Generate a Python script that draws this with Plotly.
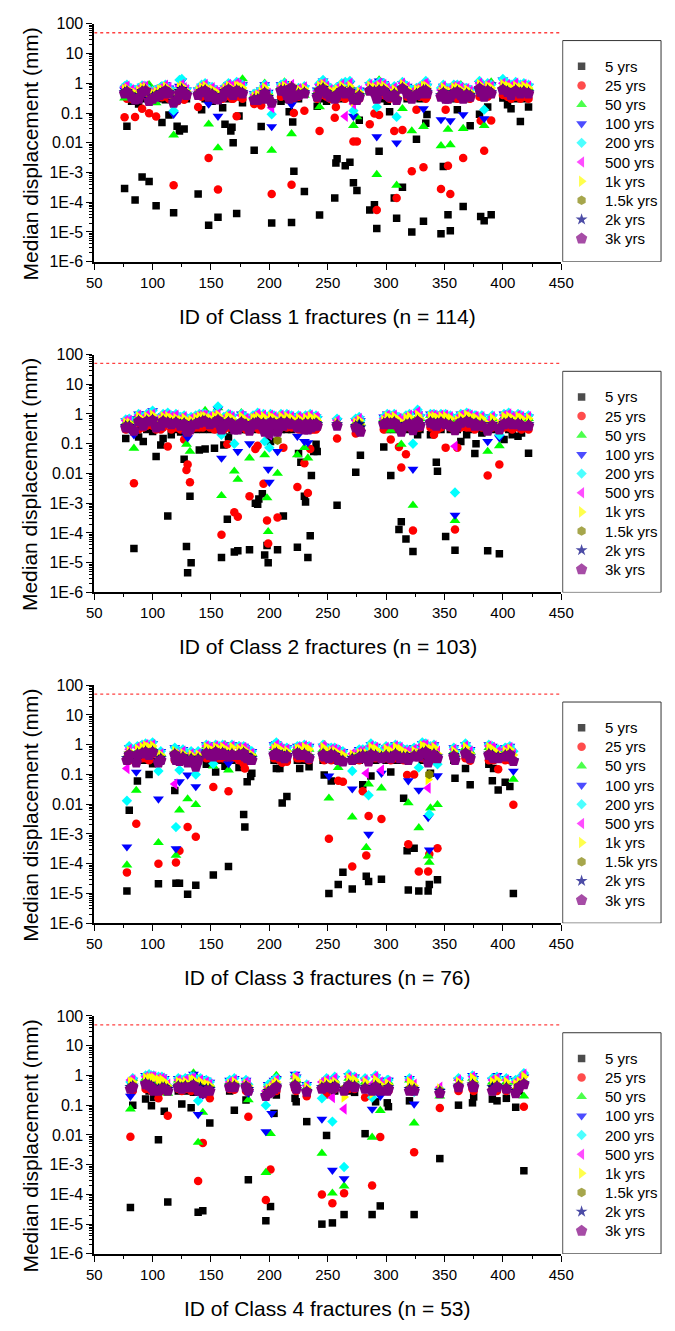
import plotly.graph_objects as go

# ---------------------------------------------------------------- series
SERIES = ["5 yrs", "25 yrs", "50 yrs", "100 yrs", "200 yrs",
          "500 yrs", "1k yrs", "1.5k yrs", "2k yrs", "3k yrs"]
COLORS = ["#000000", "#FF0000", "#00FF00", "#0000FF", "#00FFFF",
          "#FF00FF", "#FFFF00", "#808000", "#000080", "#800080"]
SYMBOLS = ["square", "circle", "triangle-up", "triangle-down", "diamond",
           "triangle-left", "triangle-right", "hexagon", "star", "pentagon"]
SIZES = [7.5, 8.5, 9.5, 9.5, 8, 10, 10, 9.5, 9, 12]

LIMIT_MM = 50  # displacement limit drawn as the dotted line

# ---------------------------------------------------------------- Class 1
C1_ID = [76, 78, 82, 85, 88, 91, 94, 97, 100, 103, 106, 108, 111, 114, 118, 121, 123, 125, 127, 129,
         139, 142, 145, 148, 151, 154, 156, 160, 162, 165, 167, 168, 169, 172, 174, 177,
         187, 190, 193, 196, 199, 202,
         210, 213, 215, 217, 219, 220, 221, 225, 230,
         241, 243, 246, 249, 252, 256, 257, 258, 262, 265, 269, 272, 275, 277,
         286, 290, 292, 294, 298, 301, 303, 307, 309, 314, 318, 322, 326, 329, 332, 334, 335,
         347, 349, 351, 353, 355, 358, 361, 364, 366, 369, 372,
         380, 381, 384, 387, 390,
         400, 404, 407, 411, 415, 418, 422]
C1_5 = [2.9e-4, .036, .25, 1.2e-4, .2, 7e-4, .3, 5e-4, .25, 7.6e-5, .3, .048, .28, .085, 4.4e-5, .036, .025, .3, .029, .3,
        1.9e-4, .13, .3, 1.7e-5, .25, .3, 3.1e-5, .15, .042, .3, .025, .033, .01, 4.2e-5, .079, .22,
        5.6e-3, .25, .035, .3, .3, 2e-5,
        .25, .3, .3, .11, 2.1e-5, .05, 1.1e-3, .3, 2.3e-4,
        .17, 3.7e-5, .3, .25, .3, 1.4e-4, 2.1e-3, 2.9e-3, .3, 1.7e-3, 2.2e-3, 4.5e-4, 2.5e-4, .057,
        5.5e-5, 8.2e-5, 1.3e-5, 5.2e-3, .3, .25, .11, 1.4e-4, 2.9e-5, 3.2e-4, .3, 1e-5, .013, .3, 2.3e-5, .045, .089,
        8.7e-6, 1.6e-3, .3, 3.8e-5, 1.1e-5, .3, .13, .3, 7.2e-5, .3, .037,
        .091, 3.3e-5, 2.4e-5, .16, 3.8e-5,
        .32, .19, .14, .3, .052, .3, .16]
C1_25 = [.072, .3, .3, .074, .35, .14, .4, .098, .3, .076, .35, .34, .4, .3, 3.7e-4, .25, .3, .35, .28, .35,
         .16, .35, .4, 3.1e-3, .35, .3, 2.7e-4, .3, .35, .4, .35, .3, .3, .078, .35, .3,
         .2, .25, .18, .3, .3, 1.9e-4,
         .35, .4, .35, .3, 3.9e-4, .3, .1, .35, .12,
         .3, .025, .4, .35, .3, .069, .16, .3, .35, .3, .35, .011, .011, .3,
         .042, .096, 5.5e-5, .085, .4, .35, .3, .025, 1.4e-4, .027, .35, 1.1e-3, .13, .35, 1.5e-3, .3, .35,
         2.8e-4, .35, .13, 1.7e-3, 1.9e-4, .35, .3, .35, 3.1e-3, .35, .3,
         .35, .055, 5.4e-3, .35, .056,
         .4, .35, .3, .35, .3, .35, .3]
C1_50 = [.32, .55, .5, .45, .6, .7, .7, .9, .5, .22, .6, .7, .8, .6, .018, .45, .6, .8, .6, .55,
         .5, .6, .7, .042, .6, .5, 6.7e-3, .5, .6, .8, .7, .6, .5, .8, .7, 1.4,
         .4, .45, .6, 1, .5, 5.5e-3,
         .8, 1.1, .7, .5, .02, .6, .5, .6, .39,
         .5, .16, .8, .6, .5, .5, .5, .6, .7, .6, .8, .038, .074, .5,
         .5, .6, 8.5e-4, 1.3, .8, .6, .5, .6, 3.7e-4, .14, .7, .025, .6, .6, .035, .7, .6,
         7.9e-3, .6, .5, .028, 8.5e-3, .6, .7, .9, .03, .6, .5,
         .8, .6, .038, .7, 1.1,
         .8, .7, .6, .8, .6, .7, .7]
C1_100 = [.6, .8, .6, .55, .7, .8, .75, .6, .55, .5, .7, .75, .9, .7, .091, .6, .8, 1.2, .7, .6,
          .6, .8, .9, .2, .7, .6, .078, .6, .7, .9, .8, .7, .6, 1, .9, .9,
          .45, .5, .6, .9, .5, .035,
          .9, 1, .8, .6, .19, .7, .6, .7, .7,
          .6, .8, 1.2, .8, .6, .6, .6, .7, .9, .7, 1, .078, .5, .6,
          .9, .8, .016, 1.2, 1, .7, .6, .7, .01, 1, .8, .5, .7, .7, .14, 1, .8,
          .06, .8, .6, .5, .055, .8, .9, .8, .089, .7, .6,
          1, .8, .065, .9, .9,
          1.3, .9, .8, 1, .8, .9, .8]
C1_200 = [.8, .9, .65, .6, .7, .85, .8, .6, .55, .6, .7, .8, .9, .7, .12, .6, 1.3, 1.4, .75, .65,
          .65, .9, 1, .6, .75, .6, .5, .6, .8, 1, .9, .8, .7, 1.1, 1, .9,
          .45, .5, .6, .9, .5, .091,
          .9, 1, .8, .6, .5, .7, .6, .7, .8,
          .6, 1, 1.3, .9, .7, .6, .7, .7, 1, 1.1, 1.2, .12, .5, .6,
          1, .9, .16, 1.1, 1, .8, .6, .8, .074, 1.1, .8, .6, .7, .8, .9, 1.2, .9,
          .7, .9, .6, .6, .7, .9, .9, .8, .6, .7, .6,
          1.2, .9, .13, 1, .9,
          1.4, 1, .9, 1.1, .9, 1, .9]
C1_500 = [.75, .8, .6, .5, .65, .8, .8, .5, .5, .55, .65, .7, .85, .7, .3, .5, .8, .9, .7, .6,
          .6, .8, .9, .6, .7, .55, .5, .55, .75, .9, .8, .7, .6, 1, .9, .8,
          .4, .45, .55, .8, .45, .15,
          .8, .9, .7, .55, .9, .65, .55, .65, .75,
          .55, .9, 1, .8, .6, .55, .6, .65, .9, .078, 1, .2, .45, .55,
          .9, .8, .4, 1, .9, .7, .55, .7, .3, 1, .75, .5, .65, .7, .9, 1, .8,
          .6, .8, .55, .5, .6, .8, .8, .7, .55, .65, .55,
          1, .8, .5, .9, .8,
          1, .9, .8, 1, .8, .9, .8]
C1_1K = [.6, .65, .5, .45, .55, .7, .7, .45, .45, .5, .6, .6, .75, .6, .3, .45, .7, .8, .6, .55,
         .55, .7, .8, .5, .6, .5, .45, .5, .65, .8, .7, .6, .55, .8, .8, .7,
         .35, .4, .5, .7, .4, .25,
         .7, .8, .6, .5, .8, .55, .5, .6, .65,
         .5, .8, .9, .7, .55, .5, .5, .6, .8, .6, .8, .25, .4, .5,
         .8, .7, .4, .8, .8, .6, .5, .6, .35, .9, .65, .45, .6, .6, .8, .8, .7,
         .5, .7, .5, .45, .5, .7, .7, .6, .5, .6, .5,
         .9, .7, .5, .8, .7,
         .9, .8, .7, .8, .7, .8, .7]
C1_1K5 = [.5, .55, .4, .32, .35, .55, .6, .3, .35, .4, .45, .5, .6, .5, .25, .32, .5, .6, .5, .45,
          .45, .55, .6, .4, .45, .35, .3, .4, .55, .65, .55, .5, .45, .6, .55, .5,
          .3, .3, .35, .5, .35, .22,
          .6, .6, .45, .35, .75, .45, .4, .45, .5,
          .4, .6, .7, .5, .4, .35, .4, .45, .6, .5, .55, .3, .3, .4,
          .6, .55, .35, .6, .6, .45, .4, .45, .3, .7, .5, .35, .45, .5, .6, .6, .5,
          .4, .5, .35, .35, .4, .5, .55, .45, .35, .45, .4,
          .7, .55, .4, .6, .5,
          .65, .55, .45, .6, .5, .55, .5]
C1_2K = [.5, .55, .4, .33, .35, .55, .6, .3, .35, .4, .45, .5, .6, .5, .25, .33, .55, .65, .5, .45,
         .45, .55, .6, .4, .45, .35, .3, .4, .55, .65, .55, .5, .45, .6, .55, .5,
         .3, .3, .35, .5, .35, .25,
         .6, .6, .45, .35, .75, .45, .4, .45, .5,
         .4, .6, .7, .5, .4, .35, .4, .45, .6, .5, .55, .3, .3, .4,
         .6, .55, .35, .6, .6, .45, .4, .45, .3, .7, .5, .35, .45, .5, .6, .6, .5,
         .4, .5, .35, .35, .4, .5, .55, .45, .35, .45, .4,
         .7, .55, .4, .6, .5,
         .65, .55, .45, .6, .5, .55, .5]
C1_3K = [.45, .5, .35, .28, .3, .5, .55, .25, .3, .35, .4, .45, .55, .45, .22, .28, .45, .55, .45, .4,
         .4, .5, .55, .35, .4, .3, .28, .35, .5, .6, .5, .45, .4, .55, .5, .45,
         .27, .27, .3, .45, .3, .22,
         .55, .55, .4, .3, .7, .4, .35, .4, .45,
         .35, .55, .6, .45, .35, .3, .35, .4, .55, .45, .5, .28, .27, .35,
         .55, .5, .3, .55, .55, .4, .35, .4, .27, .65, .45, .3, .4, .45, .55, .55, .45,
         .35, .45, .3, .3, .35, .45, .5, .4, .3, .4, .35,
         .65, .5, .35, .55, .45,
         .6, .5, .4, .55, .45, .5, .45]

# ---------------------------------------------------------------- Class 2
C2_ID = [77, 80, 84, 88, 92, 95, 100, 103, 107, 109, 113, 116, 120, 124, 127, 129, 130, 132, 133, 137,
         140, 143, 145, 149, 153, 156, 159, 161, 164, 165, 168, 170, 173, 176, 180, 183, 186, 188, 190, 191,
         194, 195, 196, 198, 199, 200, 201, 204, 207, 210, 212, 215, 219, 224, 225, 227, 230, 231, 233, 235,
         236, 238, 240, 241,
         258, 274, 277, 278, 298, 301, 304, 307, 311, 313, 317, 320, 323, 327, 329, 338, 341, 343, 344, 347,
         351, 355, 359, 361, 364, 369, 372, 376, 377, 382, 387, 391, 397, 401, 405, 408, 413, 416, 422]
C2_5 = [.15, .3, 3e-5, .17, .12, .3, .26, .037, .091, .15, 3.7e-4, .2, .3, .25, .03, 3.5e-5, 4.6e-6, 1.7e-3, 1e-5, .3,
        .062, .3, .066, .3, .071, .3, 1.5e-5, .091, 2.9e-4, .17, .3, 2.3e-5, 2.5e-5, .3, .3, 2.7e-5, .3, 1e-3, 9.3e-4, 1.4e-3,
        2.1e-3, .3, 1.8e-5, 3.8e-5, 1e-5, .3, .12, .3, 2.7e-5, .3, 3.7e-4, .3, .3, 3.3e-5, .047, .024, 1.7e-3, 1.1e-3, 1.5e-5, 8e-5,
        8.5e-3, .055, .096, .055,
        8.5e-4, .011, .3, .041, .078, .3, 8.5e-3, .3, 1.3e-4, 2.4e-4, 6.3e-5, .3, 2.4e-5, .2, .3, .2, .3, .024, .012, .3,
        7.6e-5, .3, 2.6e-5, .3, .12, .2, .3, .047, .1, .23, 2.5e-5, .3, 2e-5, .14, .3, .2, .18, .23, .048]
C2_25 = [.3, .35, 4.7e-3, .3, .35, .4, .4, .3, .3, .35, .08, .3, .35, .3, .14, .013, .02, 5.1e-3, .3, .35,
         .35, .35, .4, .35, .3, .35, 8.7e-5, .3, .096, .35, .35, 5e-4, 3.5e-4, .35, .3, 1.7e-3, .35, .066, .085, .3,
         .35, 4.5e-3, .3, 2.6e-4, 4.4e-5, .3, .35, .35, 3.3e-4, .35, .074, .35, .35, 3.5e-3, .3, .3, .022, .3, 2.2e-3, .066,
         .3, .3, .3, .35,
         .15, .22, .3, .3, .3, .35, .14, .35, .078, .016, .044, .35, 1.2e-4, .35, .35, .35, .2, .35, .3, .35,
         .074, .35, 1.3e-4, .074, .35, .35, .35, .3, .35, .35, 8.5e-3, .35, .02, .35, .35, .3, .35, .3, .3]
C2_50 = [.5, .6, .07, .9, .7, .8, .9, .6, .6, .7, .7, .6, .7, .6, .6, .096, .3, .055, .5, .6,
         .7, .8, 1.3, .7, .7, 1.6, 1.8e-3, .6, .6, .7, .7, .012, 6.3e-3, 1.1, .6, .033, .7, .6, .7, .6,
         .7, .8, .042, 1.5e-3, 1.1e-4, .5, 1, .7, .01, .8, .6, .7, .7, .042, .6, .6, .074, .6, .033, .7,
         .5, .6, .7, .6,
         .5, .5, .6, .5, .7, .8, .28, .7, .6, .096, .6, .7, 8.5e-4, .8, .7, .9, .8, .7, .6, .8,
         .7, .7, 2.6e-4, .6, .8, 1, .8, .6, .7, .7, .055, .7, .085, .8, .9, .7, .8, .7, .7]
C2_100 = [.6, .7, .2, 1, .8, 1, 1.3, .7, .8, .9, 1, .8, .9, .7, .8, .2, .16, .5, .7, .8,
          .9, 1, 1, .8, .9, 1.5, .033, .8, .8, .9, .8, .3, .055, 1, .8, .1, .8, .8, .9, .8,
          .8, .9, .4, .6, .014, 5.1e-3, .9, .8, .055, .9, .8, .9, .9, .18, .8, .7, .12, .8, .11, .9,
          .6, .7, .8, .7,
          .6, .6, .7, .6, .8, 1, .8, .9, .8, .6, .8, .9, .014, 1, .8, 1, .9, .8, .8, 1,
          .9, .8, 4e-4, .8, 1, 1.1, .9, .8, .9, .8, .12, .8, .16, 1, 1, .9, .9, .9, .8]
C2_200 = [.65, .7, .3, 1, .8, 1, 1.3, .7, .8, 1, 1.1, .9, 1, .8, .9, .5, .4, .6, .8, .9,
          1, 1, 1, .9, 1, 1.8, .2, .8, .9, 1, .9, .1, .4, 1, .8, .4, .9, .9, 1.1, .9,
          .8, 1, .12, .6, .5, .074, 1, .9, .6, 1, .8, 1, .9, .6, .9, .8, .5, .9, .6, 1,
          .6, .8, .9, .8,
          .7, .7, .8, .6, .8, 1, .9, 1, .8, .7, .9, 1, .1, 1.4, .9, 1, 1, .9, .9, 1,
          1, .9, 2.3e-3, .8, 1, 1.1, 1, .9, .9, .9, .6, .9, .2, 1, 1.1, .9, 1, .9, .9]
C2_500 = [.6, .6, .3, .9, .7, .9, 1, .6, .7, .9, .9, .8, .9, .7, .8, .5, .4, .5, .7, .8,
          .9, .9, .9, .8, .9, 1, .4, .7, .8, .9, .8, .4, .45, .9, .7, .4, .8, .8, 1, .8,
          .7, .9, .4, .5, .5, .2, .9, .8, .5, .9, .7, .9, .8, .6, .8, .7, .5, .8, .5, .9,
          .55, .7, .8, .7,
          .6, .6, .7, .5, .7, .9, .8, .9, .7, .6, .8, .9, .3, 1.2, .8, .9, .9, .8, .8, .9,
          .9, .8, .082, .7, .9, 1, .9, .8, .8, .8, .5, .8, .5, .9, 1, .8, .9, .8, .8]
C2_1K = [.5, .5, .3, .8, .6, .8, .9, .5, .6, .8, .8, .7, .7, .6, .7, .4, .35, .45, .6, .7,
         .8, .8, .8, .7, .8, .9, .4, .6, .7, .8, .7, .4, .4, .8, .6, .35, .7, .7, .8, .7,
         .6, .8, .35, .45, .45, .3, .8, .7, .45, .8, .6, .8, .7, .5, .7, .6, .45, .7, .45, .8,
         .5, .6, .7, .6,
         .5, .5, .6, .45, .6, .8, .7, .8, .6, .5, .7, .8, .35, .9, .7, .8, .8, .7, .7, .8,
         .8, .7, .3, .6, .8, .9, .8, .7, .7, .7, .45, .7, .45, .8, .8, .7, .8, .7, .7]
C2_1K5 = [.4, .4, .28, .6, .45, .6, .65, .4, .45, .6, .55, .5, .55, .45, .5, .35, .3, .35, .45, .5,
          .55, .6, .6, .5, .55, .65, .35, .45, .5, .55, .5, .35, .35, .55, .45, .3, .5, .5, .55, .5,
          .45, .5, .3, .35, .35, .25, .55, .5, .13, .55, .45, .55, .5, .4, .5, .45, .35, .5, .35, .5,
          .4, .45, .5, .45,
          .45, .4, .45, .35, .5, .55, .5, .55, .4, .35, .45, .5, .3, .6, .45, .55, .5, .45, .5, .55,
          .5, .45, .3, .45, .55, .6, .55, .45, .5, .45, .3, .45, .35, .5, .55, .5, .5, .45, .45]
C2_2K = [.4, .4, .3, .6, .45, .6, .65, .4, .45, .6, .55, .5, .55, .45, .5, .35, .3, .35, .45, .5,
         .55, .6, .6, .5, .55, .65, .35, .45, .5, .55, .5, .35, .35, .55, .45, .3, .5, .5, .55, .5,
         .45, .5, .3, .35, .35, .28, .55, .5, .3, .55, .45, .55, .5, .4, .5, .45, .35, .5, .35, .5,
         .4, .45, .5, .45,
         .45, .4, .45, .35, .5, .55, .5, .55, .4, .35, .45, .5, .3, .6, .45, .55, .5, .45, .5, .55,
         .5, .45, .3, .45, .55, .6, .55, .45, .5, .45, .3, .45, .35, .5, .55, .5, .5, .45, .45]
C2_3K = [.35, .35, .27, .55, .4, .55, .6, .35, .4, .55, .5, .45, .5, .4, .45, .3, .25, .3, .4, .45,
         .5, .55, .55, .45, .5, .6, .3, .4, .45, .5, .45, .3, .3, .5, .4, .27, .45, .45, .5, .45,
         .4, .45, .25, .3, .3, .22, .5, .45, .25, .5, .4, .5, .45, .35, .45, .4, .3, .45, .3, .45,
         .35, .4, .45, .4,
         .4, .35, .3, .25, .45, .5, .45, .5, .35, .25, .4, .45, .28, .55, .4, .5, .45, .4, .45, .5,
         .45, .4, .28, .4, .5, .55, .5, .4, .45, .4, .27, .4, .3, .45, .5, .45, .45, .4, .4]

# ---------------------------------------------------------------- Class 3
C3_ID = [78, 80, 86, 87, 91, 94, 97, 100, 105, 107,
         119, 120, 123, 126, 130, 133, 137, 139,
         146, 149, 152, 154, 157, 160, 162, 165, 168,
         174, 178, 179, 181, 184, 185,
         204, 206, 209, 211, 213, 215,
         224, 226, 230, 234,
         246, 247, 251, 253, 256, 259, 263, 271,
         277, 280, 283, 285, 287, 291, 296,
         300, 304, 308, 312, 315, 318, 319, 324, 328, 331, 334, 336, 337, 338, 341, 344,
         358, 359, 368, 372,
         388, 391, 392, 396, 402, 406, 409]
C3_5 = [1.2e-5, 6.3e-3, .3, .06, .3, .3, .1, .23, 2.1e-5, .3,
        .029, 2.2e-5, 2.2e-5, .3, 9.3e-6, .3, 1.9e-5, .3,
        .22, .3, 4.2e-5, .12, .3, .3, .19, 8e-5, .3,
        .17, 4.5e-3, 1.7e-3, .057, .085, .11,
        .3, .16, .16, .011, .3, .018,
        .3, .16, .3, .18,
        .3, .096, 1e-5, .06, .3, 2e-5, 5.2e-5, 1.4e-5,
        .3, .045, 3.8e-5, 2.5e-5, .089, .3, 3e-5,
        .3, .12, .3, .3, .016, 2.7e-4, 1.3e-5, 3.3e-4, 1.2e-5, .3, .3, 1.2e-5, 2e-5, .11, .3, 2.9e-5,
        .3, .074, .16, .045,
        .22, .062, .16, .03, .055, .039, 1e-5]
C3_25 = [5.1e-5, .3, 2.2e-3, .3, .35, .35, .3, .35, 1e-4, .3,
         .3, 1.1e-4, 2.7e-4, .3, 1.7e-3, .3, 8.1e-4, .3,
         .35, .35, .038, .35, .35, .35, .35, .027, .35,
         .3, .23, .16, .3, .3, .3,
         .35, .35, .3, .25, .3, .27,
         .35, .35, .35, .3,
         .35, .3, 6.9e-4, .3, .35, .062, .057, 8e-5,
         .3, .027, 1.9e-4, 4e-3, .35, .35, 3.2e-3,
         .35, .3, .35, .35, .3, .096, 4.5e-4, .1, 5.5e-5, .35, .35, 5.5e-5, 2.1e-4, .3, .35, 3.3e-4,
         .35, .3, .35, .29,
         .3, .35, .3, .15, .3, .3, 9.6e-3]
C3_50 = [9e-5, .6, .029, .6, .8, .9, .7, .8, 5.1e-4, .5,
         .6, 1.9e-4, 6.3e-3, .6, .015, .5, 9.6e-3, .5,
         .9, .8, .19, 1, .8, .8, 1, .14, .9,
         .9, .8, .7, .6, .6, .5,
         .8, .9, .7, .6, .6, .7,
         .8, .8, .8, .7,
         .7, 1, .016, .6, .7, .17, .5, 3.7e-3,
         .6, .6, 3.5e-4, .047, .8, .7, .035,
         .7, .7, .8, .7, .6, .6, .011, .7, 1.6e-3, .9, .9, 1.8e-4, 1.1e-4, 7.4e-3, .8, 9.6e-3,
         .6, .5, .8, .6,
         .8, .7, .6, .6, .7, .8, .069]
C3_100 = [3.7e-4, .8, .12, .8, 1, 1.1, .9, 1.1, .015, .6,
          .8, 3.2e-4, .057, .7, .096, .6, .039, .6,
          1, .9, .8, 1, .9, .9, .9, .23, 1,
          .9, .9, .8, .7, .6, .6,
          1, 1.1, .8, .7, .7, .8,
          .9, .9, 1, .9,
          .9, .9, .089, .8, .8, .7, .6, .033,
          .7, .7, .6, 9.8e-4, 1, .9, .11,
          .8, .8, 1, .8, .7, .7, .062, .8, .03, 1.1, 1, 3.6e-3, 2.9e-4, .8, 1, .091,
          .8, .6, 1, .7,
          1, .9, .8, .7, .8, .9, .13]
C3_200 = [.013, .9, .5, .9, 1, 1.1, 1, 1.2, .13, .6,
          .8, 1.7e-3, .14, .7, .4, .6, .1, .6,
          1, .9, .23, 1, .9, 1, .9, .8, 1,
          .9, .9, .8, .7, .6, .6,
          1, 1.2, .9, .8, .7, .8,
          .9, .9, 1, .9,
          1, .9, .7, .8, .8, .7, .6, .13,
          .7, .7, .7, .02, 1.1, .9, .6,
          .9, .8, 1, .9, .7, .7, .6, .8, .17, 1.2, 1.1, .4, 4.6e-3, .9, 1, .22,
          .8, .6, 1.1, .7,
          1, .9, .8, .7, .8, .9, .6]
C3_500 = [.16, .7, .5, .8, .9, 1, .9, 1, .4, .5,
          .048, .5, .4, .6, .4, .5, .3, .5,
          .9, .8, .7, .9, .8, .9, .8, .7, .9,
          .8, .8, .7, .6, .5, .5,
          .8, 1, .8, .7, .6, .7,
          .8, .8, .9, .8,
          .9, .8, .6, .7, .7, .6, .5, .5,
          .6, .6, .11, .5, .9, .8, .14,
          .8, .7, .9, .8, .6, .6, .5, .7, .6, 1, 1, .035, .5, .8, .9, .6,
          .7, .5, .9, .6,
          .9, .8, .7, .6, .7, .8, .5]
C3_1K = [.4, .6, .4, .7, .8, .9, .8, .9, .4, .45,
         .6, .45, .35, .5, .35, .45, .3, .45,
         .8, .7, .6, .8, .7, .8, .7, .6, .8,
         .7, .7, .6, .5, .45, .45,
         .7, .8, .7, .6, .5, .6,
         .7, .7, .8, .7,
         .8, .7, .5, .6, .6, .5, .45, .45,
         .5, .5, .5, .4, .8, .7, .5,
         .7, .6, .8, .7, .5, .5, .45, .6, .5, .9, .8, .068, .5, .7, .8, .5,
         .6, .45, .8, .5,
         .8, .7, .6, .5, .6, .7, .45]
C3_1K5 = [.35, .5, .3, .5, .55, .6, .5, .6, .3, .35,
          .5, .35, .3, .4, .3, .35, .22, .35,
          .55, .5, .45, .6, .5, .55, .5, .45, .5,
          .5, .55, .45, .4, .35, .35,
          .5, .55, .45, .45, .4, .45,
          .55, .5, .5, .4,
          .5, .45, .4, .5, .45, .35, .3, .35,
          .4, .45, .4, .3, .5, .45, .4,
          .45, .4, .5, .4, .4, .4, .35, .45, .45, .55, .6, .3, .1, .45, .5, .4,
          .45, .35, .55, .4,
          .5, .45, .4, .4, .45, .5, .3]
C3_2K = [.35, .5, .3, .5, .55, .6, .5, .6, .3, .35,
         .5, .35, .3, .4, .3, .35, .22, .35,
         .55, .5, .45, .6, .5, .55, .5, .45, .5,
         .5, .55, .45, .4, .35, .35,
         .5, .55, .45, .45, .4, .45,
         .55, .5, .5, .4,
         .5, .45, .4, .5, .45, .35, .3, .35,
         .4, .45, .4, .3, .5, .45, .4,
         .45, .4, .5, .4, .4, .4, .35, .45, .45, .55, .6, .3, .4, .45, .5, .4,
         .45, .35, .55, .4,
         .5, .45, .4, .4, .45, .5, .3]
C3_3K = [.3, .45, .25, .45, .5, .55, .45, .55, .25, .3,
         .45, .3, .28, .35, .25, .3, .18, .3,
         .5, .45, .4, .55, .45, .5, .45, .4, .45,
         .45, .5, .4, .35, .3, .3,
         .45, .5, .4, .4, .35, .4,
         .5, .45, .45, .35,
         .45, .4, .35, .45, .4, .3, .27, .3,
         .35, .4, .35, .27, .45, .4, .35,
         .4, .35, .45, .35, .35, .35, .3, .4, .4, .5, .55, .25, .35, .4, .45, .35,
         .4, .3, .5, .35,
         .45, .4, .35, .35, .4, .45, .28]

# ---------------------------------------------------------------- Class 4
C4_ID = [81, 83, 94, 97, 99, 101, 105, 108, 110, 113,
         122, 125, 128, 133, 135, 139, 141, 143, 146, 149,
         166, 170, 180, 182,
         197, 199, 201, 202, 204, 206,
         222, 223, 232,
         245, 249, 254, 256,
         264, 268, 273,
         282, 288, 291, 295,
         301, 302, 320, 324, 346,
         362, 374, 375, 391, 395,
         403, 411, 414, 418]
C4_5 = [3.6e-5, .1, .16, .3, .096, .18, 6.9e-3, .3, .063, 5.5e-5,
        .3, .11, .3, .082, .27, 2.5e-5, .3, 2.8e-5, .3, .025,
        .3, .067, .15, 3.1e-4,
        1.3e-5, .3, 3.9e-5, .3, .053, .22,
        .17, .13, .028,
        1e-5, 9.6e-3, 1.1e-5, .3,
        2.1e-5, .3, .27,
        .011, 2.1e-5, .13, 4.1e-5,
        .12, .089, .14, 2.1e-5, 1.6e-3,
        .1, .12, .19, .16, .14,
        .17, .085, .3, 6.2e-4]
C4_25 = [8.7e-3, .3, .35, .35, .3, .35, .17, .3, .3, .044,
         .35, .3, .35, .3, .35, 2.8e-4, .35, 5.4e-3, .3, .17,
         .35, .33, .3, .041,
         6.5e-5, .3, 6.9e-4, .3, .3, .3,
         .35, .3, .2,
         1e-4, .23, 5e-5, .35,
         1.1e-4, .35, .35,
         .18, 2e-4, .35, 8.5e-3,
         .3, .3, .3, 2.6e-3, .08,
         .3, .35, .3, .3, .3,
         .3, .3, .35, .089]
C4_50 = [.074, .8, .8, .9, .8, .7, .6, .7, .6, .25,
         .7, .6, .6, .8, 1.2, 5.6e-3, .7, .057, .6, .5,
         .6, .6, .6, .15,
         5.4e-4, .5, .011, .5, .6, 1,
         .9, .7, .4,
         2.4e-3, .6, 1.1e-4, .7,
         1.9e-4, .8, .7,
         .6, 8.3e-3, .7, .066,
         .6, .6, .7, .025, .2,
         .8, .8, .7, .6, .8,
         .6, .6, .7, .2]
C4_100 = [.2, .7, 1, 1, .9, .9, .8, .9, .8, .4,
          .8, .7, .7, .9, 1.1, .049, .8, .22, .7, .6,
          .7, .8, .7, .25,
          .013, .5, .5, .053, .7, .8,
          1.1, .9, .5,
          .034, .7, 6.5e-4, .8,
          3.4e-4, 1, .9,
          .7, .074, .9, .2,
          .7, .7, .8, .11, .3,
          .7, 1, .8, .7, 1,
          .8, .7, .8, .9]
C4_200 = [.6, .8, 1, 1.1, 1, 1, .9, .9, .8, .45,
          .8, .7, .8, .9, .9, .14, .8, .5, .7, .6,
          .7, .8, .7, .5,
          .1, .5, .5, .5, .7, .8,
          1, .9, .5,
          .17, .8, .028, .9,
          8.3e-4, 1.1, .9,
          .8, .18, 1, .6,
          .7, .7, .8, .28, .35,
          .8, 1, .8, .8, .9,
          .8, .7, .8, 1.2]
C4_500 = [.7, .7, .9, .9, .9, .9, .8, .8, .7, .5,
          .7, .6, .7, .8, .8, .6, .7, .5, .6, .5,
          .6, .7, .6, .5,
          .3, .4, .4, .45, .6, .7,
          .9, .8, .45,
          .6, .7, .18, .8,
          .074, .9, .8,
          .7, .5, .9, .6,
          .6, .6, .7, .5, .4,
          .7, .9, .7, .7, .8,
          .7, .6, .7, 1.1]
C4_1K = [.6, .6, .8, .8, .8, .8, .7, .7, .6, .45,
         .6, .55, .6, .7, .7, .5, .6, .45, .5, .45,
         .5, .6, .5, .45,
         .25, .35, .35, .4, .5, .6,
         .8, .7, .4,
         .5, .6, .5, .6,
         .19, .8, .7,
         .6, .25, .7, .5,
         .5, .5, .6, .45, .35,
         .6, .8, .6, .6, .7,
         .6, .5, .6, .9]
C4_1K5 = [.4, .45, .55, .5, .45, .4, .35, .4, .4, .35,
          .45, .4, .45, .45, .5, .35, .4, .3, .35, .35,
          .45, .45, .45, .35,
          .22, .3, .3, .3, .35, .45,
          .5, .4, .3,
          .4, .45, .4, .45,
          .35, .5, .45,
          .4, .35, .45, .35,
          .35, .4, .35, .35, .3,
          .45, .5, .45, .4, .45,
          .4, .3, .45, .55]
C4_2K = [.4, .45, .55, .5, .45, .4, .35, .4, .4, .35,
         .45, .4, .45, .45, .5, .35, .4, .3, .35, .35,
         .45, .45, .45, .35,
         .22, .3, .3, .3, .35, .45,
         .5, .4, .3,
         .4, .45, .4, .45,
         .35, .5, .45,
         .4, .35, .45, .35,
         .35, .4, .35, .35, .3,
         .45, .5, .45, .4, .45,
         .4, .3, .45, .55]
C4_3K = [.35, .4, .5, .45, .4, .3, .3, .35, .35, .3,
         .4, .35, .4, .4, .45, .3, .3, .25, .3, .3,
         .4, .4, .4, .3,
         .2, .25, .27, .3, .35, .4,
         .45, .35, .28,
         .35, .4, .35, .4,
         .3, .45, .4,
         .35, .3, .4, .3,
         .3, .35, .3, .3, .25,
         .4, .45, .4, .3, .4,
         .35, .25, .4, .5]

CLASSES = [1, 2, 3, 4]
N_FRACTURES = [114, 103, 76, 53]
PANELS = [
    (C1_ID, [C1_5, C1_25, C1_50, C1_100, C1_200, C1_500, C1_1K, C1_1K5, C1_2K, C1_3K]),
    (C2_ID, [C2_5, C2_25, C2_50, C2_100, C2_200, C2_500, C2_1K, C2_1K5, C2_2K, C2_3K]),
    (C3_ID, [C3_5, C3_25, C3_50, C3_100, C3_200, C3_500, C3_1K, C3_1K5, C3_2K, C3_3K]),
    (C4_ID, [C4_5, C4_25, C4_50, C4_100, C4_200, C4_500, C4_1K, C4_1K5, C4_2K, C4_3K]),
]
for ids, cols in PANELS:
    for col in cols:
        if len(col) != len(ids):
            raise ValueError(f"length mismatch: {len(col)} vs {len(ids)} (first id {ids[0]})")

# ---------------------------------------------------------------- geometry (px)
W, H = 675, 1331
PLOT_L, PLOT_R = 89, 571
TOP0, PANEL_H, STEP = 16, 241, 335
LEG_L, LEG_R = 572, 675
LEG_BOX_TOP = 17
LEG_Y0, LEG_DY = 43, 19.4
FONT = "Liberation Sans, Arial, sans-serif"

Y_TICKS = [1e-6, 1e-5, 1e-4, 1e-3, 0.01, 0.1, 1, 10, 100]
Y_TEXT = ["1E-6", "1E-5", "1E-4", "1E-3", "0.01", "0.1", "1", "10", "100"]
Y_MINOR = [m * 10.0 ** e for e in range(-6, 2) for m in range(2, 10)]


def paper_x(px):
    return px / W


def paper_y(px):
    return 1 - px / H


fig = go.Figure()
annotations = []
shapes = []
layout_axes = {}

for k, (ids, cols) in enumerate(PANELS):
    n = k + 1
    xa = "x" if n == 1 else f"x{n}"
    ya = "y" if n == 1 else f"y{n}"
    lx, ly = f"x{n + 4}", f"y{n + 4}"
    top = TOP0 + STEP * k
    bottom = top + PANEL_H
    ydom = [paper_y(bottom), paper_y(top)]

    # dotted limit line
    fig.add_trace(go.Scatter(x=[50, 450], y=[LIMIT_MM, LIMIT_MM], mode="lines",
                             line=dict(color="#FF4040", dash="dot", width=1.3),
                             xaxis=xa, yaxis=ya, showlegend=False, hoverinfo="skip"))
    # displacement series
    for i, col in enumerate(cols):
        fig.add_trace(go.Scatter(
            x=ids, y=col, mode="markers", name=SERIES[i],
            marker=dict(symbol=SYMBOLS[i], color=COLORS[i], size=SIZES[i], line=dict(width=0)),
            xaxis=xa, yaxis=ya, showlegend=False))

    # key panel beside each plot
    fig.add_trace(go.Scatter(
        x=[592] * len(SERIES), y=[LEG_Y0 + LEG_DY * i for i in range(len(SERIES))],
        mode="markers", marker=dict(symbol=SYMBOLS, color=COLORS, size=SIZES, line=dict(width=0)),
        xaxis=lx, yaxis=ly, showlegend=False, hoverinfo="skip"))
    for i, s in enumerate(SERIES):
        annotations.append(dict(x=614, y=LEG_Y0 + LEG_DY * i, xref=lx, yref=ly, text=s,
                                showarrow=False, xanchor="left", yanchor="middle",
                                font=dict(family=FONT, size=15, color="black")))
    shapes.append(dict(type="rect", xref=lx, yref=ly, x0=572.5, x1=674, y0=LEG_BOX_TOP, y1=PANEL_H,
                       line=dict(color="#333333", width=1), fillcolor="rgba(0,0,0,0)"))

    # axis titles
    annotations.append(dict(x=paper_x((PLOT_L + PLOT_R) / 2), y=paper_y(bottom + 55),
                            xref="paper", yref="paper", showarrow=False,
                            text=f"ID of Class {CLASSES[k]} fractures (n = {N_FRACTURES[k]})",
                            xanchor="center", yanchor="middle",
                            font=dict(family=FONT, size=21, color="black")))
    annotations.append(dict(x=paper_x(23), y=paper_y(top + 132), xref="paper", yref="paper",
                            showarrow=False, text="Median displacement (mm)", textangle=-90,
                            xanchor="center", yanchor="middle",
                            font=dict(family=FONT, size=21, color="black")))

    layout_axes["xaxis" if n == 1 else f"xaxis{n}"] = dict(
        domain=[paper_x(PLOT_L), paper_x(PLOT_R)], anchor=ya, range=[50, 450],
        tickmode="array", tickvals=list(range(50, 451, 50)),
        ticks="outside", ticklen=6, tickwidth=1.3, tickcolor="black",
        minor=dict(tickmode="array", tickvals=list(range(75, 450, 50)), ticks="outside",
                   ticklen=3, tickwidth=1.2, tickcolor="black"),
        showline=True, linecolor="black", linewidth=1.6, showgrid=False, zeroline=False,
        tickfont=dict(family=FONT, size=15, color="black"))
    layout_axes["yaxis" if n == 1 else f"yaxis{n}"] = dict(
        domain=ydom, anchor=xa, type="log", range=[-6, 2],
        tickmode="array", tickvals=Y_TICKS, ticktext=Y_TEXT,
        ticks="outside", ticklen=6, tickwidth=1.3, tickcolor="black",
        minor=dict(tickmode="array", tickvals=Y_MINOR, ticks="outside",
                   ticklen=3, tickwidth=1, tickcolor="black"),
        showline=True, linecolor="black", linewidth=1.6, showgrid=False, zeroline=False,
        tickfont=dict(family=FONT, size=16, color="black"))
    layout_axes[f"xaxis{n + 4}"] = dict(domain=[paper_x(LEG_L), 1], anchor=ly,
                                        range=[LEG_L, LEG_R], visible=False, fixedrange=True)
    layout_axes[f"yaxis{n + 4}"] = dict(domain=ydom, anchor=lx, range=[PANEL_H, 0],
                                        visible=False, fixedrange=True)

fig.update_layout(
    width=W, height=H, margin=dict(l=0, r=0, t=0, b=0),
    paper_bgcolor="white", plot_bgcolor="white",
    font=dict(family=FONT, color="black"),
    annotations=annotations, shapes=shapes, showlegend=False,
    **layout_axes)

fig.write_html("out.html")
